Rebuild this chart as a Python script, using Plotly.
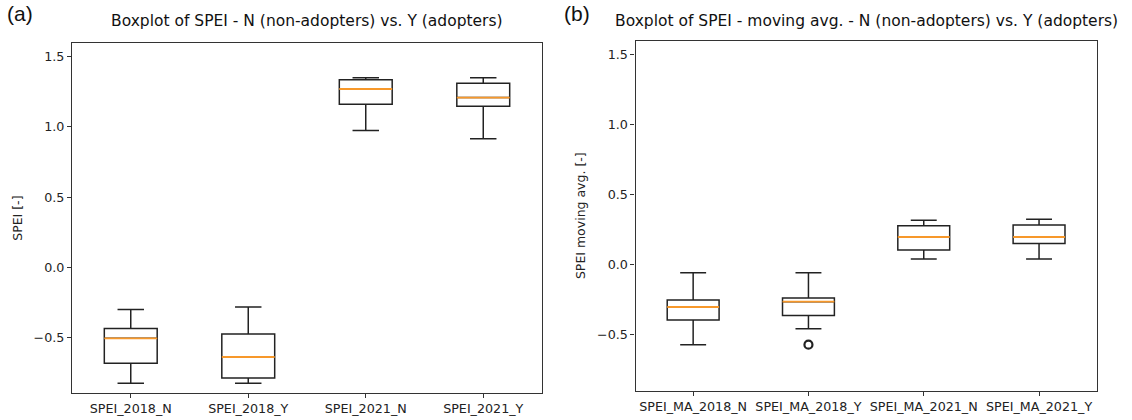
import plotly.graph_objects as go

W, H = 1132, 420

# ---- data ----
labels_a = ["SPEI_2018_N", "SPEI_2018_Y", "SPEI_2021_N", "SPEI_2021_Y"]
lower_a = [-0.823, -0.823, 0.974, 0.917]
q1_a = [-0.681, -0.785, 1.161, 1.147]
median_a = [-0.503, -0.636, 1.270, 1.209]
q3_a = [-0.434, -0.472, 1.335, 1.310]
upper_a = [-0.299, -0.280, 1.350, 1.350]

labels_b = ["SPEI_MA_2018_N", "SPEI_MA_2018_Y", "SPEI_MA_2021_N", "SPEI_MA_2021_Y"]
lower_b = [-0.571, -0.457, 0.040, 0.040]
q1_b = [-0.395, -0.362, 0.104, 0.150]
median_b = [-0.302, -0.264, 0.197, 0.197]
q3_b = [-0.252, -0.238, 0.278, 0.283]
upper_b = [-0.057, -0.057, 0.316, 0.323]
outlier_b_idx = [1]
outlier_b_val = [-0.571]

ytick_vals = [-0.5, 0.0, 0.5, 1.0, 1.5]
ytick_text = ["\u22120.5", "0.0", "0.5", "1.0", "1.5"]

BOXW = 0.45
INK = "#222222"
FONT = "DejaVu Sans"

fig = go.Figure()


def add_panel(labels, lo, q1, med, q3, up, xa, ya):
    pos = list(range(len(labels)))
    fig.add_trace(go.Box(
        x=pos, q1=q1, median=med, q3=q3, lowerfence=lo, upperfence=up,
        width=BOXW, whiskerwidth=0.5, boxpoints=False,
        line=dict(color=INK, width=1.5), fillcolor="rgba(0,0,0,0)",
        xaxis=xa, yaxis=ya, showlegend=False, hoverinfo="skip"))
    mx, my = [], []
    for p, m in zip(pos, med):
        mx += [p - BOXW / 2, p + BOXW / 2, None]
        my += [m, m, None]
    fig.add_trace(go.Scatter(x=mx, y=my, mode="lines",
                             line=dict(color="#f7982a", width=1.8),
                             xaxis=xa, yaxis=ya, showlegend=False, hoverinfo="skip"))


add_panel(labels_a, lower_a, q1_a, median_a, q3_a, upper_a, "x", "y")
add_panel(labels_b, lower_b, q1_b, median_b, q3_b, upper_b, "x2", "y2")

fig.add_trace(go.Scatter(x=outlier_b_idx, y=outlier_b_val, mode="markers",
                         marker=dict(symbol="circle-open", size=8, color=INK,
                                     line=dict(width=2.2, color=INK)),
                         xaxis="x2", yaxis="y2", showlegend=False, hoverinfo="skip"))

axis_common = dict(showgrid=False, zeroline=False, showline=True, mirror=True,
                   linecolor="#333333", linewidth=1.2, ticks="outside",
                   ticklen=4, tickwidth=1, tickcolor="#333333", automargin=False,
                   tickfont=dict(family=FONT, size=12.7, color="#222222"))

fig.update_layout(
    width=W, height=H,
    margin=dict(l=0, r=0, t=0, b=0, autoexpand=False),
    paper_bgcolor="white", plot_bgcolor="white",
    xaxis=dict(domain=[72 / W, 542 / W], range=[-0.5, 3.5],
               tickvals=list(range(4)), ticktext=labels_a, anchor="y", **axis_common),
    yaxis=dict(domain=[1 - 393 / H, 1 - 43.3 / H], range=[-0.892, 1.595],
               tickvals=ytick_vals, ticktext=ytick_text, anchor="x",
               title=dict(text="SPEI [-]", font=dict(family=FONT, size=12.5, color="#222222"),
                          standoff=8),
               **axis_common),
    xaxis2=dict(domain=[635.5 / W, 1096.7 / W], range=[-0.5, 3.5],
                tickvals=list(range(4)), ticktext=labels_b, anchor="y2", **axis_common),
    yaxis2=dict(domain=[1 - 390.7 / H, 1 - 40.7 / H], range=[-0.899, 1.597],
                tickvals=ytick_vals, ticktext=ytick_text, anchor="x2",
                title=dict(text="SPEI moving avg. [-]", font=dict(family=FONT, size=12.5, color="#222222"),
                           standoff=8),
                **axis_common),
    annotations=[
        dict(text="Boxplot of SPEI - N (non-adopters) vs. Y (adopters)", x=307 / W, y=1 - 21 / H,
             xref="paper", yref="paper", showarrow=False, xanchor="center", yanchor="middle",
             font=dict(family=FONT, size=15.5, color="#111111")),
        dict(text="Boxplot of SPEI - moving avg. - N (non-adopters) vs. Y (adopters)",
             x=866 / W, y=1 - 21 / H,
             xref="paper", yref="paper", showarrow=False, xanchor="center", yanchor="middle",
             font=dict(family=FONT, size=15.5, color="#111111")),
        dict(text="(a)", x=5 / W, y=1 - 14 / H, xref="paper", yref="paper", showarrow=False,
             xanchor="left", yanchor="middle",
             font=dict(family="Liberation Sans", size=21, color="#111111")),
        dict(text="(b)", x=562 / W, y=1 - 14 / H, xref="paper", yref="paper", showarrow=False,
             xanchor="left", yanchor="middle",
             font=dict(family="Liberation Sans", size=21, color="#111111")),
    ],
)

fig.write_html("out.html", config={"displayModeBar": False},
               post_script="document.body.style.margin='0';document.body.style.overflow='hidden';")
